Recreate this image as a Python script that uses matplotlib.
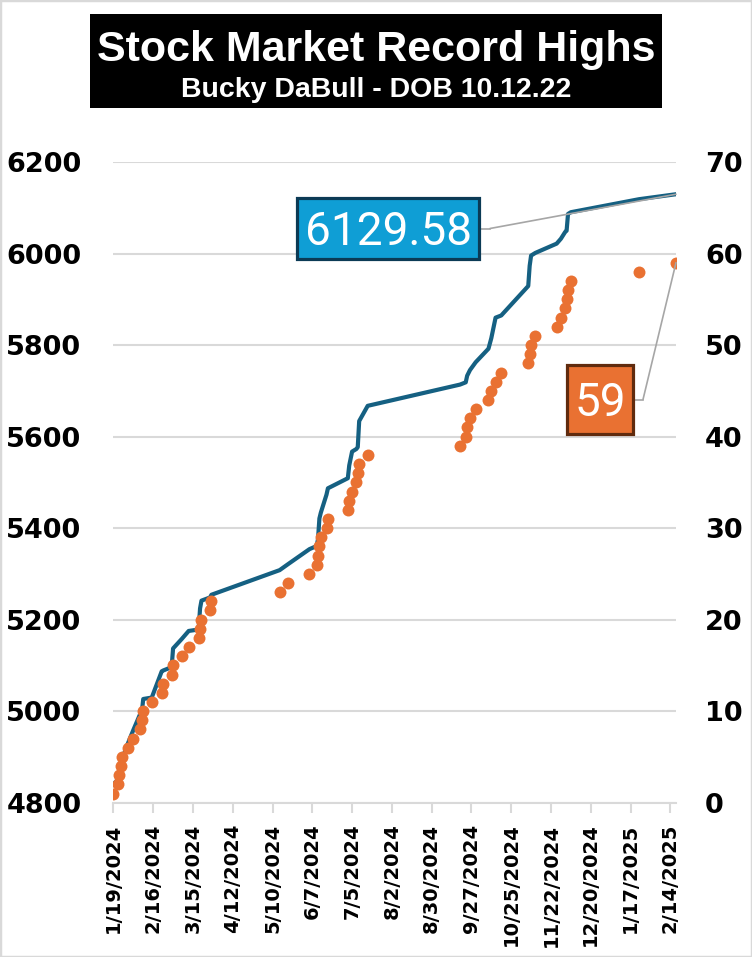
import matplotlib
matplotlib.use('Agg')
import matplotlib.pyplot as plt
import matplotlib.dates as mdates
from matplotlib.patches import Rectangle
from matplotlib.lines import Line2D
import datetime as dt

# ---------------- data ----------------
record_dates = [
    "2024-01-19", "2024-01-22", "2024-01-23", "2024-01-24", "2024-01-25", "2024-01-29",
    "2024-02-02", "2024-02-07", "2024-02-08", "2024-02-09", "2024-02-15", "2024-02-22",
    "2024-02-23", "2024-02-29", "2024-03-01", "2024-03-07", "2024-03-12", "2024-03-19",
    "2024-03-20", "2024-03-21", "2024-03-27", "2024-03-28", "2024-05-15", "2024-05-21",
    "2024-06-05", "2024-06-10", "2024-06-11", "2024-06-12", "2024-06-13", "2024-06-17",
    "2024-06-18", "2024-07-02", "2024-07-03", "2024-07-05", "2024-07-08", "2024-07-09",
    "2024-07-10", "2024-07-16", "2024-09-19", "2024-09-23", "2024-09-24", "2024-09-26",
    "2024-09-30", "2024-10-09", "2024-10-11", "2024-10-14", "2024-10-18", "2024-11-06",
    "2024-11-07", "2024-11-08", "2024-11-11", "2024-11-26", "2024-11-29", "2024-12-02",
    "2024-12-03", "2024-12-04", "2024-12-06", "2025-01-23", "2025-02-18",
]
record_closes = [
    4839.81, 4850.43, 4864.60, 4868.55, 4894.16, 4927.93,
    4958.61, 4995.06, 4997.91, 5026.61, 5029.73, 5087.03,
    5088.80, 5096.27, 5137.08, 5157.36, 5175.27, 5178.51,
    5224.62, 5241.53, 5248.49, 5254.35, 5308.15, 5321.41,
    5354.03, 5360.79, 5375.32, 5421.03, 5433.74, 5473.23,
    5487.03, 5509.01, 5537.02, 5567.19, 5572.85, 5576.98,
    5633.91, 5667.20, 5713.64, 5718.57, 5732.93, 5745.37,
    5762.48, 5792.04, 5815.03, 5859.85, 5864.67, 5929.04,
    5973.10, 5995.54, 6001.35, 6021.63, 6032.38, 6047.15,
    6049.88, 6086.49, 6090.27, 6118.71, 6129.58,
]
record_counts = [
    1, 2, 3, 4, 5, 6, 7, 8, 9, 10, 11, 12, 13, 14, 15, 16, 17, 18, 19, 20,
    21, 22, 23, 24, 25, 26, 27, 28, 29, 30, 31, 32, 33, 34, 35, 36, 37, 38, 39, 40,
    41, 42, 43, 44, 45, 46, 47, 48, 49, 50, 51, 52, 53, 54, 55, 56, 57, 58, 59,
]
x_tick_labels = [
    "1/19/2024", "2/16/2024", "3/15/2024", "4/12/2024", "5/10/2024", "6/7/2024",
    "7/5/2024", "8/2/2024", "8/30/2024", "9/27/2024", "10/25/2024", "11/22/2024",
    "12/20/2024", "1/17/2025", "2/14/2025",
]
left_ticks = [4800, 5000, 5200, 5400, 5600, 5800, 6000, 6200]
right_ticks = [0, 10, 20, 30, 40, 50, 60, 70]
title = "Stock Market Record Highs"
subtitle = "Bucky DaBull - DOB 10.12.22"

# ---------------- styling ----------------
LINE_C = '#156082'
DOT_C = '#E97132'
GRID_C = '#D9D9D9'
LEADER_C = '#A6A6A6'
W, H = 752, 957

def fx(x):
    return x / W

def fy(y):
    return 1 - y / H

dates = [dt.datetime.strptime(d, "%Y-%m-%d") for d in record_dates]
tick_dates = [dt.datetime.strptime(t, "%m/%d/%Y") for t in x_tick_labels]

fig = plt.figure(figsize=(W / 100, H / 100), dpi=100)

ax_left_px, ax_right_px = 113.4, 676.0
ax_top_px, ax_bot_px = 162.0, 802.7
ax = fig.add_axes([fx(ax_left_px), fy(ax_bot_px),
                   (ax_right_px - ax_left_px) / W, (ax_bot_px - ax_top_px) / H])

ax.set_xlim(mdates.date2num(dates[0]), mdates.date2num(dates[-1]))
ax.set_ylim(left_ticks[0], left_ticks[-1])
ax.set_yticks(left_ticks)
ax.yaxis.grid(True, color=GRID_C, lw=1.5)
ax.set_axisbelow(True)

ax.plot(dates, record_closes, color=LINE_C, lw=3.0, solid_joinstyle='round',
        solid_capstyle='round', zorder=3)

ax.set_xticks(tick_dates)
ax.set_xticklabels(x_tick_labels, rotation=90, fontsize=14, fontweight='bold',
                   family='DejaVu Sans', va='top', ha='center')
ax.tick_params(axis='x', direction='out', length=7, width=1.5, color=GRID_C, pad=8)
ax.tick_params(axis='y', length=0, pad=23, labelsize=19.5)
for lab in ax.get_yticklabels():
    lab.set_fontweight('bold')
    lab.set_family('DejaVu Sans')
for side in ['left', 'right', 'top']:
    ax.spines[side].set_visible(False)
ax.spines['bottom'].set_color(GRID_C)
ax.spines['bottom'].set_linewidth(1.5)

ax2 = ax.twinx()
ax2.set_ylim(right_ticks[0], right_ticks[-1])
ax2.set_yticks(right_ticks)
ax2.plot(dates, record_counts, linestyle='none', marker='o', color=DOT_C,
         markersize=8.6, markeredgewidth=0, zorder=4)
ax2.tick_params(axis='y', length=0, pad=21, labelsize=19.5)
for lab in ax2.get_yticklabels():
    lab.set_fontweight('bold')
    lab.set_family('DejaVu Sans')
for side in ax2.spines:
    ax2.spines[side].set_visible(False)

# ---------------- data labels ----------------
def label_box(x0, y0, x1, y1, text, face, edge, kink_x, target_ax, xy):
    fig.add_artist(Rectangle((fx(x0), fy(y1)), (x1 - x0) / W, (y1 - y0) / H,
                             transform=fig.transFigure, facecolor=face,
                             edgecolor=edge, lw=2.3, zorder=10))
    cy = (y0 + y1) / 2
    fig.text(fx((x0 + x1) / 2), fy(cy + 16.5), text, color='white', fontsize=33,
             family=['Roboto', 'DejaVu Sans'], ha='center', va='baseline', zorder=11)
    fig.add_artist(Line2D([fx(x1 + 1), fx(kink_x)], [fy(cy), fy(cy)],
                          transform=fig.transFigure, color=LEADER_C, lw=1.2, zorder=9))
    target_ax.annotate('', xy=xy, xycoords='data', xytext=(kink_x, H - cy),
                       textcoords='figure pixels', annotation_clip=False,
                       arrowprops=dict(arrowstyle='-', color=LEADER_C, lw=1.2,
                                       shrinkA=0, shrinkB=0), zorder=6)

label_box(297, 198, 479, 259, f"{record_closes[-1]:.2f}", '#0F9ED5', '#0B3A55',
          490, ax, (mdates.date2num(dates[-1]), record_closes[-1]))
label_box(567, 365, 633, 434, f"{record_counts[-1]}", DOT_C, '#602B0E',
          643, ax2, (mdates.date2num(dates[-1]), record_counts[-1]))

# ---------------- title block ----------------
fig.add_artist(Rectangle((fx(90), fy(108)), (662 - 90) / W, (108 - 14) / H,
                         transform=fig.transFigure, facecolor='black',
                         edgecolor='none', zorder=10))
fig.text(fx(376), fy(61), title, color='white', fontsize=31, fontweight='bold',
         family='Liberation Sans', ha='center', va='baseline', zorder=11)
fig.text(fx(376), fy(97), subtitle, color='white', fontsize=20.5, fontweight='bold',
         family='Liberation Sans', ha='center', va='baseline', zorder=11)

# figure border
fig.add_artist(Rectangle((0, 0), 1, 1, transform=fig.transFigure, fill=False,
                         edgecolor=GRID_C, lw=2.5, zorder=20))

fig.savefig('out.png', dpi=100)
